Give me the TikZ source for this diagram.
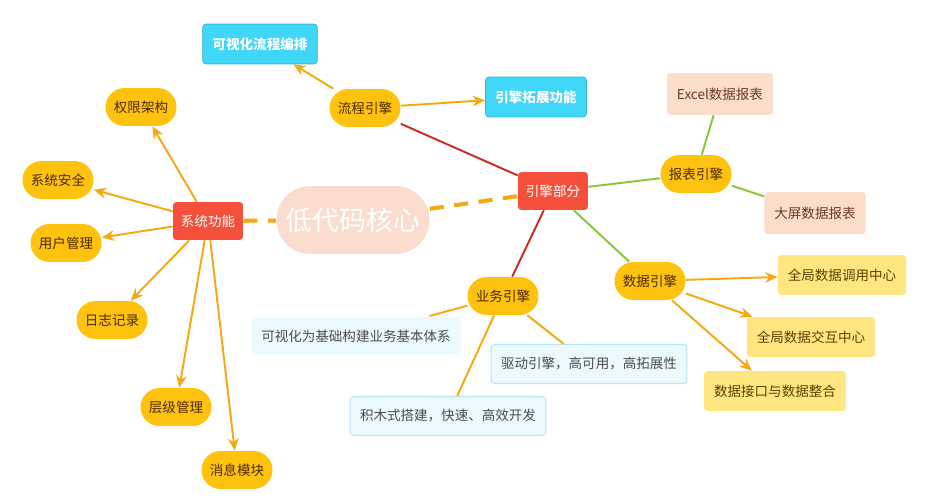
\documentclass[tikz,border=0pt]{standalone}
\usepackage{fontspec}
\setmainfont{Noto Sans CJK SC}
\usetikzlibrary{arrows.meta}
\definecolor{pillY}{HTML}{FFC20E}
\definecolor{pillT}{HTML}{4E2A00}
\definecolor{redN}{HTML}{F5503B}
\definecolor{blueN}{HTML}{3FD6F7}
\definecolor{peachN}{HTML}{FCDDCB}
\definecolor{peachT}{HTML}{6B3A2A}
\definecolor{coreN}{HTML}{FADDCE}
\definecolor{lightY}{HTML}{FFE680}
\definecolor{lightT}{HTML}{5A4200}
\definecolor{cyanN}{HTML}{ECFAFD}
\definecolor{cyanB}{HTML}{B8E6F5}
\definecolor{lineO}{HTML}{F5A80F}
\definecolor{lineR}{HTML}{CC2A1F}
\definecolor{lineG}{HTML}{86C83A}

\begin{document}
\begin{tikzpicture}[x=0.02cm,y=-0.02cm,>={Stealth[length=7pt,width=6pt]},
    font=\fontsize{7.7}{9}\selectfont,
    pill/.style={fill=pillY,text=pillT,rounded corners=0.38cm,minimum width=1.42cm,minimum height=0.76cm,inner sep=1pt},
    redbox/.style={fill=redN,text=white,rounded corners=2pt,minimum width=1.4cm,minimum height=0.76cm},
    bluebox/.style={fill=blueN,draw=blueN!85!black,line width=0.4pt,text=white,font=\fontsize{7.7}{9}\selectfont\bfseries,rounded corners=2pt,minimum height=0.8cm,inner xsep=0.2cm},
    peachbox/.style={fill=peachN,text=peachT,rounded corners=2pt,minimum height=0.84cm,inner xsep=0.2cm},
    ybox/.style={fill=lightY,text=lightT,rounded corners=2pt,minimum height=0.8cm,inner xsep=0.2cm},
    cbox/.style={fill=cyanN,draw=cyanB,line width=0.6pt,text=black!70,rounded corners=2pt,minimum height=0.78cm,inner xsep=0.2cm},
    arr/.style={->,lineO,line width=1.1pt},
    lnO/.style={lineO,line width=1.1pt},
    lnR/.style={lineR,line width=1.1pt},
    lnG/.style={lineG,line width=1.1pt}]
    \useasboundingbox (0,0) rectangle (930,500);
    % centre
    \node[fill=coreN,text=white,rounded corners=0.68cm,minimum width=3.06cm,minimum height=1.36cm,font=\fontsize{15.3}{17}\selectfont] (core) at (353,220) {低代码核心};
    \node[redbox] (sys) at (208,221) {系统功能};
    \node[redbox] (eng) at (553,191) {引擎部分};
    \draw[lineO,line width=2.3pt,dash pattern=on 8pt off 6pt] (sys)--(core);
    \draw[lineO,line width=2.3pt,dash pattern=on 8pt off 6pt] (core)--(eng);
    % system functions
    \node[pill] (perm) at (141,107) {权限架构};
    \node[pill] (safe) at (58,180) {系统安全};
    \node[pill] (user) at (66,243) {用户管理};
    \node[pill] (log) at (112,320) {日志记录};
    \node[pill] (level) at (176,407) {层级管理};
    \node[pill] (msg) at (237,470) {消息模块};
    \foreach \t in {perm,safe,user,log,level,msg}
        \draw[arr] (sys)--(\t);
    % flow engine
    \node[pill] (flow) at (365,108) {流程引擎};
    \node[bluebox] (flowvis) at (260,44) {可视化流程编排};
    \node[bluebox] (flowext) at (536,97) {引擎拓展功能};
    \draw[arr] (flow)--(flowvis);
    \draw[arr] (flow)--(flowext);
    \draw[lnR] (eng)--(flow);
    % report engine
    \node[pill] (rep) at (696,174) {报表引擎};
    \node[peachbox] (excel) at (720,94) {Excel数据报表};
    \node[peachbox] (screen) at (815,213) {大屏数据报表};
    \draw[lnG] (eng)--(rep);
    \draw[lnG] (rep)--(excel);
    \draw[lnG] (rep)--(screen);
    % data engine
    \node[pill] (data) at (650,281) {数据引擎};
    \node[ybox] (call) at (842,275) {全局数据调用中心};
    \node[ybox] (inter) at (811,337) {全局数据交互中心};
    \node[ybox] (api) at (775,391) {数据接口与数据整合};
    \draw[lnG] (eng)--(data);
    \draw[arr] (data)--(call);
    \draw[arr] (data)--(inter);
    \draw[arr] (data)--(api);
    % business engine
    \node[pill] (biz) at (503,296) {业务引擎};
    \node[cbox,draw=none] (bizbase) at (356,336) {可视化为基础构建业务基本体系};
    \node[cbox] (bizdrv) at (589,364) {驱动引擎，高可用，高拓展性};
    \node[cbox] (bizblk) at (448,416) {积木式搭建，快速、高效开发};
    \draw[lnR] (eng)--(biz);
    \draw[lnO] (biz)--(bizbase);
    \draw[lnO] (biz)--(bizdrv);
    \draw[lnO] (biz)--(bizblk);
\end{tikzpicture}
\end{document}
